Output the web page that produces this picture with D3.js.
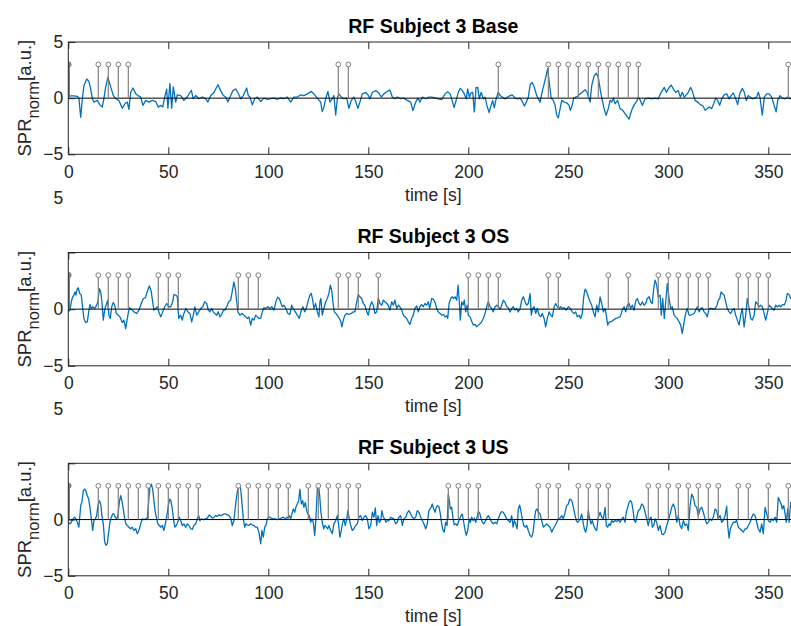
<!DOCTYPE html>
<html>
<head>
<meta charset="utf-8">
<script src="https://cdn.jsdelivr.net/npm/d3@7"></script>
<style>
  body { margin: 0; background: #fff; }
  svg { display: block; }
  text { font-family: "Liberation Sans", Arial, Helvetica, sans-serif; fill: #262626; }
</style>
</head>
<body>
<svg id="chart" width="791" height="626"></svg>
<script>
// ---- data ---------------------------------------------------------------
const titles = ["RF Subject 3 Base", "RF Subject 3 OS", "RF Subject 3 US"];
const xTicks = [0, 50, 100, 150, 200, 250, 300, 350];
const yTicks = [-5, 0, 5];
const xLimits = [0, 365];
const yLimits = [-5, 5];
const stemLevel = 3;

// stimulus onsets [s]
const baseStems = [0, 15, 20, 25, 30, 135, 140, 215, 240, 245, 250, 255, 260, 265, 270, 275, 280, 285, 360];
const osStems = [0, 15, 20, 25, 30, 45, 50, 55, 85, 90, 95, 135, 140, 145, 155, 200, 205, 210, 215, 240, 245,
  270, 280, 295, 300, 305, 310, 315, 320, 335, 340, 345, 350];
const usStems = [0, 15, 20, 25, 30, 35, 40, 45, 50, 55, 60, 65, 85, 90, 95, 100, 105, 110, 120, 125, 130, 135, 140, 145,
  190, 195, 200, 205, 235, 240, 245, 255, 260, 265, 270, 290, 295, 300, 305, 310, 315, 320, 325, 335, 340, 350, 360];

// normalised skin potential response, [time s, value a.u.]
const baseSignal = [
  [0,0.1],[1.2,0.2],[2.8,0.2],[4.5,0.15],[5.3,0],[6.2,-1.7],[7,-0.05],[7.8,1.1],[9.2,1.7],[10.3,1.5],[11.2,0.8],
  [12,-0.05],[12.8,-0.35],[14.5,-0.2],[15.8,-0.6],[17,-0.8],[17.8,-0.05],[18.7,1.0],[19.8,1.85],[21.2,1.0],[22.5,0.23],
  [23.7,-0.05],[25.3,-0.2],[27,-0.9],[28.3,-0.5],[29.5,-0.35],[30.3,-1.0],[31.2,0.5],[32.3,0.9],[33.7,0.4],[34.8,0.23],
  [36.2,0.1],[37.3,-0.64],[38.7,-0.2],[40.3,-0.35],[42,-0.2],[43.7,-0.3],[45,-0.8],[46.2,-0.64],[47.2,-0.8],[48.2,0.1],
  [49.2,0.8],[49.8,-0.9],[50.8,1.3],[51.7,-0.9],[52.5,1.0],[53.7,-0.35],[54.5,0.3],[56.2,0.23],[57.8,-0.2],[59.5,0.1],
  [61.5,0.7],[62.5,-0.05],[63.7,0.23],[65.3,-0.05],[67,0.1],[68.7,-0.05],[69.8,-0.35],[71.2,0.23],[72.8,0.5],[74.8,1.2],
  [76.2,0.67],[77.5,0.23],[78.7,0.1],[79.8,-0.35],[81.2,0.23],[82.3,0.67],[83.7,0.82],[84.8,0.5],[86.2,-0.05],[87.5,0.23],
  [89.2,0.9],[90,0.23],[90.8,0.1],[92,-0.6],[93.2,-0.05],[94.5,0.1],[96.2,-0.3],[97.8,0],[99.5,-0.1],[101.2,-0.05],
  [102.8,0],[104.5,-0.1],[106.2,0.03],[107.8,-0.05],[109.5,0.1],[111.2,-0.35],[112.8,0.1],[114.5,0.1],[116.2,0.3],
  [117.8,0.23],[119.5,0.38],[121.5,0.6],[122.8,0.38],[124.5,0],[126.2,-0.35],[127,-1.2],[127.8,-0.8],[128.7,-0.05],
  [129.8,0.6],[130.8,-0.35],[132,-0.05],[132.8,0.23],[133.7,-1.5],[134.5,-0.05],[135.3,0.38],[136.5,0.1],[137.8,-0.05],
  [139.2,0],[140.3,-0.9],[141.5,-0.2],[142.8,0.1],[143.8,-0.35],[144.8,-0.9],[145.8,-0.35],[147,0.38],[148.7,0.5],
  [149.8,0.3],[150.8,-0.05],[152,0.5],[153.7,0.67],[155.3,0.45],[156.5,0.1],[157.8,0.38],[159.5,0.6],[160.8,0.73],
  [162,0.1],[163.3,-0.05],[164.5,0.1],[166.2,-0.05],[167.8,0],[169.5,-0.2],[171.2,-0.35],[172.3,-1.1],[173.7,-0.35],
  [174.8,0],[175.8,-0.35],[177,0.1],[178.7,-0.05],[180.3,0.1],[181.7,0.09],[183.4,0.03],[185,-0.06],[186.7,-0.12],
  [188.4,0.38],[189.7,0.58],[190.9,0.38],[191.7,-0.06],[192.9,-0.85],[193.9,-0.2],[195,0.52],[196,0.87],[197,0.67],
  [198,0.38],[199,-0.06],[199.7,0.82],[200.5,0.09],[201.4,0.47],[202.2,0.52],[203,-1.22],[203.9,0.96],[204.7,0.96],
  [205.5,-0.06],[206.4,0.52],[207.5,-0.06],[208.4,0.09],[209.2,-0.58],[210.4,-1.28],[211.4,-0.64],[212.2,-0.2],
  [213,-0.87],[213.9,-0.06],[215,0.52],[216,0.23],[217,0.09],[218.4,-0.06],[219.7,0.09],[220.9,0.23],[222,0.29],
  [223.4,0],[224.7,-0.06],[225.9,0],[227,-0.29],[228,-0.7],[229,-0.35],[230,0.09],[231,1.25],[232,1.4],[233,0.96],
  [234.2,0.23],[235,-0.06],[235.9,-0.35],[236.7,0.38],[237.7,1.11],[238.7,1.84],[239.7,2.62],[240.4,1.55],[241.4,0],
  [242.5,-0.2],[243.4,-0.64],[244.2,-1.52],[245,-1.75],[245.9,-0.93],[246.7,-0.2],[248,-0.35],[249.2,-0.41],
  [250.4,-0.64],[251,-1.08],[251.7,-0.79],[252.7,0],[253.7,0.09],[254.7,0.17],[255.9,0.38],[257,0.52],[258.4,0.76],
  [259.4,0.52],[260,0.17],[260.9,-0.35],[261.7,1.11],[262.9,1.98],[264,2.22],[265,1.84],[266.2,0.52],[267,-0.2],
  [267.9,-0.93],[268.9,-1.52],[270,-0.93],[270.9,-0.2],[271.7,-0.35],[272.5,0],[273.4,-0.5],[274.7,-0.2],[275.9,-0.93],
  [277.2,-1.08],[278.4,-1.37],[279.5,-1.66],[280.4,-1.87],[281.2,-1.37],[282,-0.93],[283,-0.58],[284.2,-0.29],
  [285,0.09],[286,-0.2],[287,-0.64],[288.4,-0.06],[290,0],[291.7,-0.06],[293.4,0],[295,-0.06],[296,0.38],[297,0.67],
  [298,0.96],[299,0.52],[300,0.82],[301.4,1.17],[302.5,0.82],[303.7,0.52],[305,0.67],[306,0.09],[307,0.52],[308,0.09],
  [309,0.29],[310,0.52],[311.2,0.96],[312.2,0.52],[313.4,-0.2],[314.7,-0.35],[316,-0.58],[317.4,-0.7],[318.4,-1.08],
  [319.5,-0.93],[320.5,-0.79],[321.7,-0.93],[322.7,-0.5],[323.7,0],[324.7,-0.2],[325.7,-0.64],[326.7,-0.06],
  [327.9,0.29],[329.2,0.38],[330.4,-0.06],[331.4,0.23],[332.5,0.47],[333.7,-0.06],[334.7,-0.58],[335.7,0.38],
  [337,0.87],[338,0.52],[339,-0.2],[340,0.23],[341,0.09],[342,-0.06],[343,0],[344.2,0.09],[345,0.52],[345.9,0],
  [347,-1.52],[348,0.09],[349.2,0.38],[350.4,0.38],[351.7,0.09],[352.9,-0.64],[353.9,-1.22],[354.7,-0.2],[355.9,0.23],
  [357,0],[358.4,-0.06],[359.7,0.09],[360.9,-0.06],[362,0.05]
];

const osSignal = [
  [0,-0.24],[0.8,-0.09],[1.5,0.65],[2.2,1.09],[2.8,1.24],[3.3,1.53],[3.8,1.24],[4.5,1.82],[5,1.88],[5.7,1.38],
  [6.5,1.24],[7.2,0.06],[7.8,-0.82],[8.7,-1.18],[9.5,-1.12],[10.2,-0.24],[10.8,0.41],[11.5,0.06],[12.2,0.21],
  [13.2,0.06],[14,0.29],[14.8,0.65],[15.5,1.82],[16.2,1.53],[16.8,0.65],[17.5,-0.97],[18.3,0.06],[19,0.41],
  [19.7,0.79],[20.3,-0.53],[21,-0.82],[21.7,0.21],[22.5,0.59],[23.2,0.35],[24,-0.38],[25,-0.53],[25.8,-0.68],
  [27,-1.18],[27.8,-0.97],[28.7,-1.71],[29.5,-0.82],[30.5,0.12],[31.5,0],[32.8,-0.24],[34.2,-0.38],[35.3,-0.09],
  [36.5,0.5],[37.5,0.94],[38.5,1.0],[39.5,1.53],[40.5,2.06],[41.5,1.53],[42.2,0.65],[42.8,-0.09],[43.7,0.06],
  [44.5,0.21],[45.5,-0.38],[46.3,-0.68],[47.2,-0.24],[48.2,0.21],[49.2,0.5],[50.2,0.21],[51.2,0.21],[52.2,0.65],
  [52.8,1.29],[53.8,1.24],[54.5,1.09],[55.2,-0.82],[56.2,-0.53],[57,-0.97],[57.8,-0.38],[58.8,0.06],[59.8,-0.24],
  [60.8,-0.38],[61.7,-1.12],[62.5,-0.53],[63.3,0.21],[64.2,-0.53],[65.2,-0.24],[66.2,0.06],[67.2,0.21],[68.2,0.65],
  [69.2,0.5],[70,-0.09],[70.8,-0.24],[71.7,0.06],[72.5,-0.24],[73.3,-0.38],[74.2,-0.53],[75,-0.24],[75.8,-0.68],
  [76.7,-0.47],[77.5,-0.09],[78.3,-0.09],[79.2,0.21],[80.2,0.65],[81.2,0.79],[82.2,1.82],[82.8,2.41],[83.5,1.82],
  [84.2,0.65],[84.8,-0.24],[85.8,-0.53],[87,-0.38],[87.8,-0.53],[88.7,-0.68],[89.5,-0.82],[90.3,-0.68],[91.2,-1.41],
  [92,-0.82],[92.8,-0.97],[93.7,-0.53],[94.5,-0.68],[95.3,-0.82],[96.2,-0.82],[97,-0.24],[97.8,0.12],[98.7,0.06],
  [99.8,0.21],[100.8,0.06],[101.8,0.21],[102.8,-0.09],[103.8,0.65],[104.7,1.06],[105.5,0.94],[106.2,0.59],[107,0.21],
  [107.8,0.35],[108.8,0.06],[109.8,-0.38],[110.8,-0.47],[111.7,0.35],[112.5,0.06],[113.5,-0.24],[114.5,-0.53],
  [115.5,-0.82],[116.5,-0.09],[117.3,0.21],[118.2,-0.24],[119.2,0.21],[120,0.79],[120.8,1.24],[121.5,1.38],
  [122.2,0.79],[122.8,0.06],[123.7,0.5],[124.5,-0.24],[125.3,-0.68],[125.8,0.65],[126.3,0.94],[127,-0.53],
  [127.8,0.06],[128.7,0.65],[129.5,0.94],[130.3,1.38],[131,2.12],[131.7,1.68],[132.3,0.65],[133,-0.24],[133.8,-0.38],
  [134.5,-0.53],[135.3,-0.76],[136.2,-1.06],[136.8,-1.56],[137.5,-0.97],[138.3,-0.53],[139.2,-0.38],[140.3,-0.47],
  [141.5,-0.38],[142.5,-0.24],[143.3,-0.24],[144.2,0.65],[145,1.29],[145.8,1.09],[146.7,0.94],[147.5,0.5],[148.3,0.35],
  [149.2,-0.24],[150,-0.53],[150.8,0.21],[151.7,0.65],[152.5,0.35],[153.3,-0.38],[154.2,-0.24],[155,1.0],[155.8,0.5],
  [156.7,0.35],[157.5,0.79],[158.3,0.65],[159.2,0.5],[160,0.35],[160.8,-0.09],[161.7,0.65],[162.5,0.35],[163.3,0.79],
  [164.2,0.06],[165,0.35],[165.8,0.21],[166.7,-0.09],[167.5,-0.53],[168.3,-0.68],[169.2,-0.82],[170,-1.12],
  [170.8,-1.35],[171.7,-0.82],[172.5,-0.53],[173.3,0.06],[174.2,0.29],[175,-0.24],[175.8,0.21],[176.7,0.41],
  [177.5,0.21],[178.3,0.5],[179.2,0.35],[180,0.65],[180.7,0.06],[181.7,0.94],[182.5,0.88],[183.4,0.59],[184.2,0.06],
  [185,-0.24],[185.9,-0.38],[186.7,-0.53],[187.5,-0.47],[188.4,-0.68],[189.2,-0.59],[189.7,-0.82],[190.4,0.5],
  [191.2,0.94],[192,1.09],[192.7,0.94],[193.4,1.09],[194.2,0.79],[194.9,2.12],[195.5,0.65],[196,-0.97],[196.7,0.65],
  [197.4,0.35],[198,0.79],[198.7,-0.24],[199.4,0.35],[200,-0.53],[200.9,-0.68],[201.7,-1.06],[202.5,-1.41],
  [203.4,-1.35],[204.2,-1.56],[205,-1.41],[205.9,-1.26],[206.7,-1.12],[207.5,-0.82],[208.4,-0.38],[209.2,0.21],
  [210,0.65],[210.9,0.21],[211.7,0.06],[212.5,-0.24],[213.4,0.21],[214.2,0.35],[215,0.21],[215.9,0],[216.7,0.35],
  [217.5,0.79],[218.4,0.59],[219.2,0.21],[220,0.12],[220.9,-0.24],[221.7,0.06],[222.5,0.21],[223.4,-0.09],
  [224.2,0.06],[225,-0.24],[225.9,0.06],[226.7,0.79],[227.5,1.09],[228.4,0.65],[229.2,0.35],[230,0.5],[230.9,1.38],
  [231.5,-0.53],[232.2,0.06],[232.9,0.21],[233.7,-0.38],[234.5,0.06],[235.4,-0.53],[236.2,-0.68],[237,-0.38],
  [237.9,-0.82],[238.7,-1.56],[239.5,-0.82],[240.4,-0.24],[241.2,-0.53],[242,-0.68],[242.9,0.21],[243.7,0.5],
  [244.5,0.21],[245.4,0.06],[246.2,0.21],[247,0.06],[248,0.12],[249,-0.09],[250,0.21],[251,0.06],[252,-0.24],
  [252.9,-0.38],[253.7,-0.24],[254.5,-0.68],[255.4,-0.53],[256.2,-0.82],[257,-0.38],[257.7,1.09],[258.4,1.76],
  [259.2,1.53],[260,1.09],[260.9,0.65],[261.7,0.35],[262.5,-0.24],[263.4,-0.68],[264.2,0.35],[265,-0.24],[265.9,1.09],
  [266.7,0.5],[267.5,-0.24],[268.4,0.06],[269,-0.53],[269.7,-1.41],[270.5,-1.12],[271.4,-1.12],[272.5,-0.97],
  [273.7,-0.82],[274.7,-0.76],[275.9,-0.68],[277,-0.09],[277.9,0.21],[278.7,-0.24],[279.5,0.35],[280.4,0.5],
  [281.2,0.06],[282,0.35],[282.9,-0.09],[283.7,0.71],[284.5,0.94],[285.4,0.5],[286.2,0.35],[287,0.65],[287.9,0.35],
  [288.7,0.5],[289.5,0.94],[290.4,1.09],[291.2,0.65],[292,0.5],[292.7,1.82],[293.4,2.56],[294.2,2.12],[295,1.09],
  [295.9,1.24],[296.5,-0.53],[297.2,0.94],[298,-0.82],[298.7,0.65],[299.5,2.26],[300.4,0.94],[301.2,0.06],[302,0.21],
  [302.9,-0.53],[303.7,-0.68],[304.5,-0.82],[305.4,-1.12],[306.2,-1.41],[307,-2.15],[307.9,-1.12],[308.7,-0.38],
  [309.5,0.06],[310.4,-0.53],[311.2,-0.53],[312,-0.47],[312.9,-0.38],[313.7,-0.09],[314.5,0.21],[315.4,-0.24],
  [316.2,0.06],[317,0.12],[317.9,-0.24],[318.7,-0.38],[319.5,-0.68],[320.4,0.06],[321.4,0.06],[322.4,0],[323.4,0.06],
  [324.4,0.35],[325,0.79],[325.7,0.94],[326.4,1.53],[327,1.38],[327.9,1.24],[328.7,0.65],[329.5,0.06],[330.4,-0.24],
  [331.2,-0.38],[332,-0.09],[332.9,0.06],[333.7,-0.53],[334.5,-0.97],[335.4,-1.41],[336.2,-0.53],[337,0.06],
  [337.9,-1.56],[338.7,-0.53],[339.5,0.94],[340.4,0.06],[341.2,-0.82],[342,-0.97],[342.9,-0.53],[343.7,0.65],
  [344.5,0.5],[345.4,0.21],[346.2,0.35],[347,0.21],[347.9,-0.38],[348.7,-0.97],[349.5,-0.38],[350.4,0.35],[351.2,0.21],
  [352,0.06],[352.9,-0.09],[353.7,0.35],[354.5,0.21],[355.4,0.35],[356.2,0.21],[357,0.41],[357.9,0.35],[358.7,0.65],
  [359.5,1.38],[360.4,1.29],[361.2,0.94],[362,1.1]
];

const usSignal = [
  [0,-0.24],[0.8,-0.38],[1.5,-0.24],[2.3,0.06],[3.2,0.21],[3.8,0.06],[4.5,-0.24],[5.3,-0.68],[6.2,1.24],[6.8,1.53],
  [7.5,2.56],[8.2,2.71],[8.8,2.56],[9.5,2.12],[10.2,1.82],[10.8,1.09],[11.5,0.06],[12.2,-0.97],[12.8,-0.09],
  [13.5,0.06],[14.2,0.35],[14.8,1.24],[15.5,1.68],[16.2,1.38],[16.8,0.35],[17.5,-0.38],[18.2,-2.0],[18.8,-2.29],
  [19.5,-2.15],[20.2,-1.12],[20.8,-0.24],[21.5,0.21],[22.2,0.5],[22.8,0.5],[23.5,0.21],[24.2,0.06],[24.8,0.35],
  [25.5,1.53],[26.2,2.12],[26.8,1.68],[27.5,0.94],[28.2,0.06],[28.8,-0.38],[29.5,-0.53],[30.3,-0.68],[31.2,-0.82],
  [32,-0.68],[32.8,-0.97],[33.7,-0.82],[34.5,-1.26],[35.3,-0.97],[36.2,-0.38],[37,0.06],[37.8,0],[38.7,0.06],
  [39.5,0.12],[40.2,1.68],[40.8,2.85],[41.5,3.15],[42.2,2.71],[42.8,1.68],[43.5,0.65],[44.2,0.06],[44.8,-0.38],
  [45.5,-0.53],[46.2,-0.68],[47,-0.53],[47.8,-0.97],[48.7,-0.24],[49.3,0.35],[50,1.24],[50.7,1.82],[51.3,1.68],
  [52,0.94],[52.7,-0.09],[53.3,-0.68],[54,-0.53],[54.7,-0.24],[55.5,0.21],[56.2,-0.09],[57,-0.53],[57.8,-0.38],
  [58.7,-0.68],[59.5,-0.38],[60.3,-0.53],[61.2,-0.82],[62,-0.88],[62.8,-0.53],[63.7,-0.38],[64.5,0.06],[65.2,0.35],
  [65.8,-0.09],[66.5,0.06],[67.5,0],[68.5,0.06],[69.5,0.12],[70.5,0.41],[71.2,0.29],[72,0.12],[72.8,0.21],
  [73.7,0.35],[74.5,0.29],[75.3,0.41],[76.2,0.35],[77,0.41],[77.8,0.5],[78.7,0.5],[79.5,0.41],[80.3,0.35],
  [81.2,0.12],[82,-0.53],[82.8,-0.09],[83.5,1.09],[84.2,2.12],[84.8,2.71],[85.5,3.15],[86.2,2.71],[86.8,1.53],
  [87.5,0.06],[88.2,-0.68],[88.8,-0.38],[89.5,-0.47],[90.3,-0.53],[91.2,-0.38],[92,-0.47],[92.8,-0.53],[93.7,-0.68],
  [94.5,-0.68],[95.3,-1.12],[96.2,-2.15],[96.8,-0.97],[97.5,-1.56],[98.2,-0.68],[98.8,-0.53],[99.5,0.06],
  [100.2,0.21],[100.8,0.21],[101.5,0.12],[102.5,0.06],[103.5,0.06],[104.5,0],[105.5,0.06],[106.5,0.12],[107.5,0.21],
  [108.5,0.06],[109.2,0.21],[109.8,0.12],[110.5,0.35],[111.2,0.06],[111.8,0.5],[112.5,0.94],[113.2,0.65],[113.8,1.09],
  [114.5,1.38],[115.2,1.68],[115.8,2.71],[116.5,1.38],[117.2,1.68],[117.8,1.09],[118.5,1.53],[119.2,0.79],[119.8,0.5],
  [120.5,0.35],[121.2,-0.24],[121.8,0.06],[122.5,-0.24],[123.2,-1.41],[123.8,0.06],[124.5,2.71],[125,3.15],
  [125.7,2.12],[126.3,0.65],[127,-0.24],[127.7,-0.82],[128.3,-0.53],[129,-0.68],[129.7,-0.82],[130.3,-0.53],
  [131.2,-0.97],[132,-1.26],[132.8,-0.38],[133.7,-0.09],[134.5,0.35],[135.2,-0.53],[135.8,-1.56],[136.5,-0.97],
  [137.2,-0.24],[137.8,0.06],[138.5,-0.53],[139.2,0.06],[139.8,0.79],[140.5,0.06],[141.2,-0.53],[142,-0.97],
  [142.8,-0.82],[143.7,-0.53],[144.5,-0.38],[145.3,0.21],[146.2,0.35],[147,-0.09],[147.8,0.21],[148.7,0.35],
  [149.5,0.06],[150.3,-0.82],[151.2,-0.53],[152,0.65],[152.8,0.21],[153.5,1.03],[154.2,-0.53],[154.8,0.35],
  [155.5,-0.24],[156.2,-0.09],[156.8,0.79],[157.5,0.21],[158.2,0.06],[158.8,-0.24],[159.5,-0.09],[160.3,-0.09],
  [161.2,0.21],[162,0.12],[162.8,0.06],[163.7,-0.38],[164.5,-0.24],[165.3,0.21],[166.2,0.35],[167,-0.53],[167.8,0.06],
  [168.7,0.21],[169.5,0.59],[170.3,0.79],[171.2,0.5],[172,0.21],[172.8,0.06],[173.7,0.21],[174.5,0.79],[175.3,0.65],
  [176.2,0.21],[177,-0.09],[177.8,-0.38],[178.7,-0.82],[179.5,-0.38],[180.3,0.79],[181.4,1.09],[182,1.38],[182.7,0.94],
  [183.4,0.65],[184,1.09],[184.7,1.24],[185.4,1.09],[186,0.5],[186.7,-0.38],[187.4,-0.97],[188,-1.12],[188.7,-0.24],
  [189.4,-0.53],[190,2.26],[190.5,1.68],[191,0.94],[191.7,1.09],[192.4,0.06],[193,-0.47],[193.7,-0.38],[194.4,-0.53],
  [195,-0.24],[195.7,0.06],[196.4,0.35],[197,0.5],[197.7,-0.24],[198.4,-0.97],[199,-1.41],[199.7,-0.97],[200.4,0.06],
  [201,-0.24],[201.7,0.21],[202.4,-0.09],[203,0.12],[203.7,-0.24],[204.4,0.21],[205,0.71],[205.7,0.59],[206.4,0.06],
  [207,-0.24],[207.7,-0.38],[208.4,-0.18],[209.2,0.12],[210,0.35],[210.9,0.06],[211.7,-0.24],[212.5,-0.38],
  [213.4,-0.24],[214.2,-0.38],[215,0.06],[215.9,0.5],[216.7,0.71],[217.5,0.65],[218.4,0.35],[219.2,0.06],[220,-0.09],
  [220.9,-0.24],[221.7,0.35],[222.4,-0.68],[223,-0.09],[223.7,-0.38],[224.4,-0.82],[225,0.94],[225.7,1.29],
  [226.4,0.65],[227,0.06],[227.7,-0.53],[228.4,-0.68],[229.2,-0.53],[230,-0.97],[230.9,-1.41],[231.7,-1.56],
  [232.4,-1.12],[233,-0.09],[233.7,0.79],[234.4,0.94],[235,0.65],[235.9,0.5],[236.7,-0.09],[237.5,-0.68],[238.4,-0.53],
  [239.2,-0.38],[240,-0.53],[240.9,-0.68],[241.7,-1.12],[242.5,-0.82],[243.4,-0.53],[244.2,-0.24],[245,0.06],
  [245.9,0.12],[246.7,0.35],[247.5,0.06],[248.4,0.65],[249.2,1.24],[250,1.38],[250.7,1.82],[251.4,1.76],[252,1.53],
  [252.7,0.94],[253.4,0.35],[254,-0.09],[254.7,-0.24],[255.4,-0.09],[256,0.06],[256.7,0.5],[257.4,-0.24],[258,-0.82],
  [258.7,-1.12],[259.4,-0.53],[260,0.79],[260.7,0.06],[261.4,-0.38],[262,-0.09],[262.7,-0.53],[263.4,-0.82],
  [264.2,-0.97],[265,0.21],[265.9,0.65],[266.7,0.21],[267.5,0.06],[268.4,1.09],[269,-0.53],[269.7,-0.68],[270.4,-0.38],
  [271,-0.53],[271.7,-0.09],[272.5,-0.24],[273.4,-0.09],[274.2,-0.18],[275,0],[275.9,-0.24],[276.7,0.06],[277.5,0.21],
  [278.4,-0.24],[279,0.65],[279.7,1.09],[280.4,1.53],[281,1.68],[281.7,1.53],[282.4,0.79],[283,-0.09],[283.7,-0.24],
  [284.4,0.35],[285,0.79],[285.9,0.94],[286.7,1.38],[287.5,1.24],[288.4,0.65],[289.2,0.06],[290,-0.53],[290.7,0.06],
  [291.4,0.21],[292,-0.68],[292.7,-0.53],[293.4,0.06],[294.2,-0.24],[295,-0.97],[295.9,-0.53],[296.7,-1.26],
  [297.5,-1.35],[298.4,-1.12],[299.2,-0.53],[300,-0.09],[300.9,0.5],[301.7,1.09],[302.5,1.38],[303.4,0.94],
  [304.2,-0.24],[305,0.35],[305.9,-0.53],[306.7,-0.82],[307.5,-0.09],[308.4,-0.53],[309.2,-0.38],[310,-0.97],
  [310.9,1.24],[311.7,2.26],[312.5,1.97],[313.4,1.24],[314.2,1.09],[315,0.35],[315.9,0.94],[316.7,1.09],[317.5,0.65],
  [318.4,0.06],[319.2,-0.38],[320,-0.24],[320.9,0.06],[321.7,-0.09],[322.5,0.21],[323.4,0.94],[324.2,0.79],[325,0.06],
  [325.9,0.35],[326.7,-0.24],[327.5,-0.09],[328.4,0.35],[329.2,1.18],[329.7,-0.53],[330.4,-1.65],[331,-0.82],
  [331.7,-0.53],[332.5,-0.24],[333.4,-0.24],[334.2,-0.09],[335,-0.68],[335.9,-0.82],[336.7,-0.97],[337.5,-1.12],
  [338.4,-0.82],[339.2,-0.82],[340,-0.53],[340.9,-0.24],[341.7,0.21],[342.5,0.5],[343.4,0.35],[344.2,-0.24],
  [345,-0.82],[345.9,-1.12],[346.7,-0.38],[347.5,-1.26],[348.4,1.09],[349.2,0.5],[350,-0.09],[350.9,-0.24],
  [351.7,0.06],[352.5,-0.09],[353.4,0.21],[354.2,-0.24],[355,1.97],[355.7,1.68],[356.4,1.38],[357,0.94],[357.7,1.24],
  [358.4,0.5],[359,-0.24],[359.7,0.94],[360.4,-0.24],[361.2,1.53],[362,1.2]
];

// ---- layout -------------------------------------------------------------
const panels = [
  { title: titles[0], signal: baseSignal, stems: baseStems, top: 42, bottom: 154.3, topLabel: true },
  { title: titles[1], signal: osSignal, stems: osStems, top: 252.5, bottom: 365.8, topLabel: false },
  { title: titles[2], signal: usSignal, stems: usStems, top: 463.3, bottom: 575.8, topLabel: false }
];

const axisColor = "#262626";
const lineBlue = "#0072BD";
const stemGray = "#808080";
const tickFont = "17.5px";

const svg = d3.select("#chart");
const x = d3.scaleLinear().domain(xLimits).range([68.3, 798.3]);
const fmt = d3.format("d");

panels.forEach((p, i) => {
  const y = d3.scaleLinear().domain(yLimits).range([p.bottom, p.top]);
  const g = svg.append("g").attr("class", "panel");

  const clipId = "clip" + i;
  g.append("clipPath").attr("id", clipId)
    .append("rect")
    .attr("x", x(xLimits[0])).attr("y", p.top)
    .attr("width", x(xLimits[1]) - x(xLimits[0])).attr("height", p.bottom - p.top);

  const plot = g.append("g").attr("clip-path", `url(#${clipId})`);

  // response trace
  plot.append("path")
    .datum(p.signal)
    .attr("d", d3.line().x(d => x(d[0])).y(d => y(d[1])))
    .attr("fill", "none")
    .attr("stroke", lineBlue)
    .attr("stroke-width", 1.3)
    .attr("stroke-linejoin", "round");

  // stem baseline
  plot.append("line")
    .attr("x1", x(xLimits[0])).attr("x2", x(xLimits[1]))
    .attr("y1", y(0)).attr("y2", y(0))
    .attr("stroke", "#000").attr("stroke-width", 1);

  // stimulus stems
  const stems = plot.selectAll(".stem").data(p.stems).enter().append("g").attr("class", "stem");
  stems.append("line")
    .attr("x1", d => x(d)).attr("x2", d => x(d))
    .attr("y1", y(0)).attr("y2", y(stemLevel))
    .attr("stroke", stemGray)
    .attr("stroke-width", d => d === 0 ? 3.4 : 1.2);
  stems.append("circle")
    .attr("cx", d => x(d)).attr("cy", y(stemLevel))
    .attr("r", d => d === 0 ? 2.8 : 2.4)
    .attr("fill", d => d === 0 ? stemGray : "#fff")
    .attr("stroke", stemGray)
    .attr("stroke-width", 1);

  // axes box
  g.append("rect")
    .attr("x", x(xLimits[0])).attr("y", p.top)
    .attr("width", x(xLimits[1]) - x(xLimits[0])).attr("height", p.bottom - p.top)
    .attr("fill", "none").attr("stroke", axisColor).attr("stroke-width", 1);

  // x axis (bottom, labelled) and top ticks
  const xb = g.append("g").attr("transform", `translate(0,${p.bottom})`)
    .call(d3.axisBottom(x).tickValues(xTicks).tickSizeInner(-7).tickSizeOuter(0).tickPadding(11).tickFormat(fmt));
  const xt = g.append("g").attr("transform", `translate(0,${p.top})`)
    .call(d3.axisTop(x).tickValues(xTicks).tickSizeInner(-7).tickSizeOuter(0).tickFormat(""));

  // y axis
  const yl = g.append("g").attr("transform", `translate(${x(xLimits[0])},0)`)
    .call(d3.axisLeft(y).tickValues(yTicks).tickSizeInner(-7).tickSizeOuter(0).tickPadding(5)
      .tickFormat(d => (d === yLimits[1] && !p.topLabel) ? "" : d3.format("d")(d)));

  [xb, xt, yl].forEach(a => {
    a.select(".domain").remove();
    a.selectAll(".tick line").attr("stroke", axisColor).attr("stroke-width", 1);
    a.selectAll(".tick text").attr("fill", axisColor)
      .style("font-family", '"Liberation Sans", Arial, Helvetica, sans-serif')
      .style("font-size", tickFont);
  });

  // the upper limit label of the lower panels sits above the panel title
  if (!p.topLabel) {
    g.append("text")
      .attr("x", x(xLimits[0]) - 5)
      .attr("y", p.top - 54)
      .attr("dy", "0.32em")
      .attr("text-anchor", "end")
      .style("font-size", tickFont)
      .text(fmt(yLimits[1]));
  }

  // title
  g.append("text")
    .attr("x", (x(xLimits[0]) + x(xLimits[1])) / 2)
    .attr("y", p.top - 9.5)
    .attr("text-anchor", "middle")
    .style("font-size", "19.5px")
    .style("font-weight", "bold")
    .style("fill", "#000")
    .text(p.title);

  // x label
  g.append("text")
    .attr("x", (x(xLimits[0]) + x(xLimits[1])) / 2)
    .attr("y", p.bottom + 46.5)
    .attr("text-anchor", "middle")
    .style("font-size", tickFont)
    .text("time [s]");

  // y label with subscript
  const yLab = g.append("text")
    .attr("transform", `translate(31,${(p.top + p.bottom) / 2}) rotate(-90)`)
    .attr("text-anchor", "middle")
    .style("font-size", "18.5px");
  yLab.append("tspan").text("SPR");
  yLab.append("tspan").attr("dy", 8).style("font-size", "16.5px").text("norm");
  yLab.append("tspan").attr("dy", -8).text("[a.u.]");
});
</script>
</body>
</html>
